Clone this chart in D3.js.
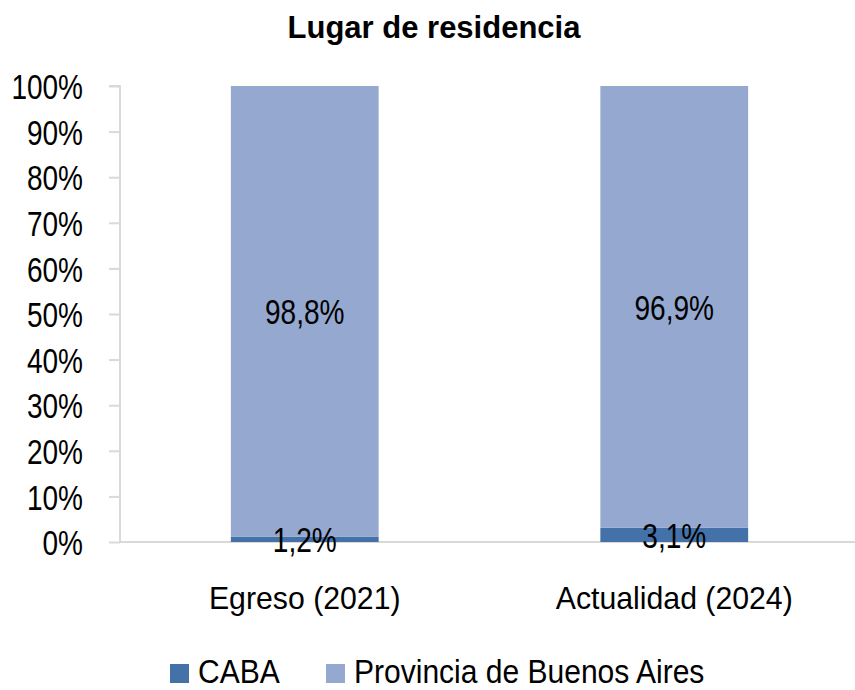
<!DOCTYPE html>
<html>
<head>
<meta charset="utf-8">
<script src="https://cdn.jsdelivr.net/npm/d3@7"></script>
<style>
  body { margin: 0; background: #fff; }
  text { font-family: "Liberation Sans", Arial, sans-serif; fill: #000; }
</style>
</head>
<body>
<div id="vis"></div>
<script>
'use strict';

// data
const categories = ['Egreso (2021)', 'Actualidad (2024)'];
const seriesNames = ['CABA', 'Provincia de Buenos Aires'];
const caba = [1.2, 3.1];
const provincia = [98.8, 96.9];
const yTicks = [0, 10, 20, 30, 40, 50, 60, 70, 80, 90, 100];

const width = 855;
const height = 690;
const margin = { top: 86, bottom: 148, left: 120 };
const colors = ['#4472A8', '#95A9D0'];

// squeeze text horizontally (the original uses a narrow face)
function narrow(sel, sx) {
  sel.each(function () {
    const t = d3.select(this);
    const x0 = +t.attr('x') || 0;
    t.attr('x', 0).attr('transform', `translate(${x0},0) scale(${sx},1)`);
  });
}

const svg = d3.select('#vis').append('svg')
  .attr('width', width)
  .attr('height', height);

const x = d3.scaleBand()
  .domain(categories)
  .range([margin.left, 859])
  .paddingInner(0.6)
  .paddingOuter(0.3);

const y = d3.scaleLinear()
  .domain([0, 100])
  .range([height - margin.bottom, margin.top]);

// stack the two series
const rows = categories.map((c, i) => ({ cat: c, CABA: caba[i], 'Provincia de Buenos Aires': provincia[i] }));
const stacked = d3.stack().keys(seriesNames)(rows);

// y axis
const yAxis = svg.append('g')
  .attr('transform', `translate(${margin.left},0)`)
  .call(d3.axisLeft(y).tickValues(yTicks).tickSize(11).tickPadding(26).tickFormat(d => d + '%'));
yAxis.select('.domain').attr('stroke', '#d9d9d9').attr('stroke-width', 2)
  .attr('d', `M-11,${y(100)}H0V${y(0)}`);
yAxis.selectAll('.tick line').attr('stroke', '#d9d9d9').attr('stroke-width', 2);
yAxis.selectAll('.tick text')
  .attr('fill', '#000')
  .attr('dy', '0.36em')
  .style('font-size', '35px')
  .style('font-family', '"Liberation Sans", Arial, sans-serif')
  .call(narrow, 0.8);

// baseline
svg.append('line')
  .attr('x1', margin.left).attr('x2', width)
  .attr('y1', y(0)).attr('y2', y(0))
  .attr('stroke', '#d9d9d9').attr('stroke-width', 2);

// bars
const layers = svg.selectAll('g.layer')
  .data(stacked)
  .enter().append('g')
  .attr('class', 'layer')
  .attr('fill', (d, i) => colors[i]);

layers.selectAll('rect')
  .data(d => d)
  .enter().append('rect')
  .attr('x', d => x(d.data.cat))
  .attr('width', x.bandwidth())
  .attr('y', d => y(d[1]))
  .attr('height', d => y(d[0]) - y(d[1]));

// data labels
const labels = svg.append('g');
stacked.forEach(layer => {
  labels.selectAll(null)
    .data(layer)
    .enter().append('text')
    .attr('x', d => x(d.data.cat) + x.bandwidth() / 2)
    .attr('y', d => (y(d[0]) + y(d[1])) / 2)
    .attr('dy', '0.36em')
    .attr('text-anchor', 'middle')
    .style('font-size', '36px')
    .text(d => (d[1] - d[0]).toFixed(1).replace('.', ',') + '%')
    .call(narrow, 0.78);
});

// category labels
svg.selectAll('text.cat')
  .data(categories)
  .enter().append('text')
  .attr('class', 'cat')
  .attr('x', d => x(d) + x.bandwidth() / 2)
  .attr('y', 609)
  .attr('text-anchor', 'middle')
  .style('font-size', '32px')
  .text(d => d)
  .call(narrow, 0.945);

// title
svg.append('text')
  .attr('x', 434)
  .attr('y', 38)
  .attr('text-anchor', 'middle')
  .style('font-size', '31px')
  .style('font-weight', 'bold')
  .text('Lugar de residencia');

// legend
const legendX = [170, 326];
const legend = svg.selectAll('g.legend')
  .data(seriesNames)
  .enter().append('g')
  .attr('class', 'legend')
  .attr('transform', (d, i) => `translate(${legendX[i]},664)`);

legend.append('rect')
  .attr('width', 19).attr('height', 19)
  .attr('fill', (d, i) => colors[i]);

legend.append('text')
  .attr('x', 28)
  .attr('y', 19)
  .style('font-size', '33px')
  .text(d => d)
  .call(narrow, 0.91);
</script>
</body>
</html>
